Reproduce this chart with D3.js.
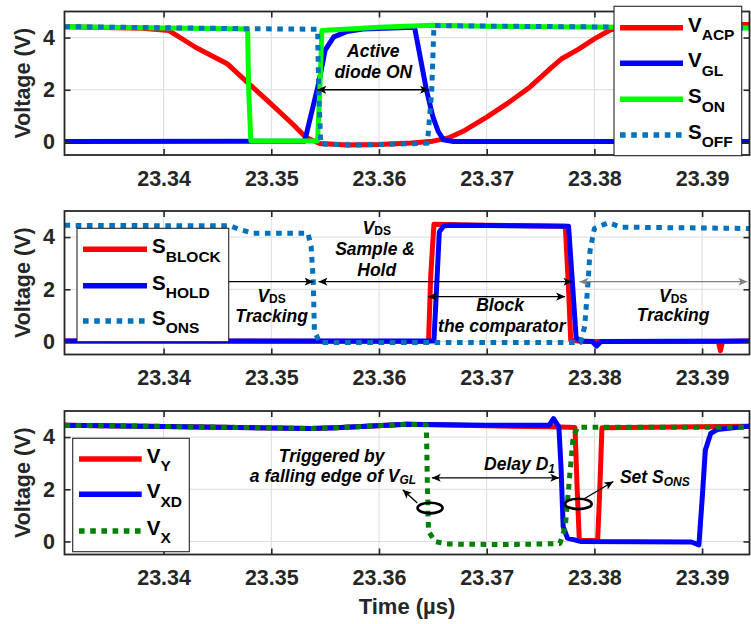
<!DOCTYPE html>
<html><head><meta charset="utf-8">
<script src="https://cdn.jsdelivr.net/npm/d3@7"></script>
<style>body{margin:0;background:#fff} svg{display:block}</style>
</head><body>
<svg id="chart" width="751" height="624"></svg>
<script>
// ---------- data ----------
const xTicks = [23.34, 23.35, 23.36, 23.37, 23.38, 23.39];
const yTicks = [0, 2, 4];
const xDomain = [23.3308, 23.3944];
const yDomain = [-0.5, 5];

// panel 1
const vACP = [[23.3308,4.42],[23.3380,4.36],[23.3405,4.27],[23.3430,3.62],[23.3459,3.0],[23.3480,2.2],[23.3500,1.45],[23.3520,0.68],[23.3532,0.18],[23.3545,-0.06],[23.3570,-0.12],[23.3600,-0.1],[23.3630,-0.04],[23.3650,0.03],[23.3665,0.16],[23.3680,0.45],[23.3700,0.95],[23.3720,1.5],[23.3740,2.1],[23.3760,2.85],[23.3770,3.2],[23.3785,3.55],[23.3800,3.95],[23.3815,4.3],[23.3830,4.48],[23.3944,4.5]];
const vGL = [[23.3308,0.02],[23.3531,0.03],[23.3544,2.25],[23.3550,3.52],[23.3558,4.03],[23.3570,4.23],[23.3585,4.33],[23.3633,4.4],[23.3644,2.0],[23.3650,0.97],[23.3655,0.4],[23.3660,0.08],[23.3669,0.02],[23.3944,0.02]];
const sON = [[23.3308,4.42],[23.3478,4.33],[23.3479,2.0],[23.3481,0.04],[23.3543,0.04],[23.3545,2.0],[23.3547,4.27],[23.3600,4.4],[23.3650,4.47],[23.3700,4.43],[23.3944,4.37]];
const sOFF = [[23.3308,4.42],[23.3478,4.34],[23.3543,4.32],[23.3544,2.0],[23.3546,-0.08],[23.3580,-0.12],[23.3645,-0.05],[23.3649,2.0],[23.3651,4.46],[23.3700,4.44],[23.3800,4.41],[23.3944,4.37]];

// panel 2
const sBLOCK = [[23.3308,0.02],[23.3646,0.0],[23.3648,2.5],[23.3651,4.49],[23.3700,4.45],[23.3773,4.42],[23.3776,2.0],[23.3778,0.05],[23.3790,0.0],[23.3915,0.0],[23.3917,-0.35],[23.3919,0.0],[23.3944,0.02]];
const sHOLD = [[23.3308,0.02],[23.3651,0.02],[23.3654,2.5],[23.3656,4.2],[23.3660,4.42],[23.3665,4.45],[23.3700,4.44],[23.3776,4.42],[23.3780,2.0],[23.3783,0.15],[23.3787,0.02],[23.3798,0.0],[23.3802,-0.18],[23.3806,0.0],[23.3944,0.02]];
const sONS = [[23.3308,4.45],[23.3462,4.43],[23.3470,4.3],[23.3483,4.15],[23.3534,4.15],[23.3537,3.65],[23.3539,2.3],[23.3540,0.4],[23.3545,-0.04],[23.3787,-0.04],[23.3791,0.57],[23.3794,2.23],[23.3796,3.5],[23.3800,4.33],[23.3813,4.55],[23.3825,4.38],[23.3944,4.33]];

// panel 3
const vY = [[23.3308,4.45],[23.3400,4.41],[23.3537,4.33],[23.3560,4.36],[23.3626,4.49],[23.3700,4.43],[23.3760,4.4],[23.3782,4.37],[23.3784,2.0],[23.3786,0.04],[23.3803,0.04],[23.3805,2.0],[23.3807,4.36],[23.3944,4.42]];
const vXD = [[23.3308,4.45],[23.3400,4.41],[23.3537,4.33],[23.3560,4.36],[23.3626,4.49],[23.3700,4.45],[23.3758,4.45],[23.3762,4.71],[23.3767,4.39],[23.3769,2.86],[23.3771,0.57],[23.3775,0.13],[23.3787,0.0],[23.3890,-0.02],[23.3897,-0.13],[23.3900,1.6],[23.3903,3.5],[23.3908,4.14],[23.3914,4.29],[23.3944,4.42]];
const vX = [[23.3308,4.45],[23.3400,4.41],[23.3537,4.33],[23.3560,4.36],[23.3626,4.49],[23.3644,4.47],[23.3645,2.0],[23.3646,0.39],[23.3652,0.0],[23.3663,-0.1],[23.3720,-0.12],[23.3768,-0.08],[23.3773,0.57],[23.3777,2.48],[23.3780,3.88],[23.3784,4.37],[23.3800,4.38],[23.3944,4.38]];

const seriesNames = [["V","ACP"],["V","GL"],["S","ON"],["S","OFF"],["S","BLOCK"],["S","HOLD"],["S","ONS"],["V","Y"],["V","XD"],["V","X"]];

// ---------- layout ----------
const svg = d3.select("#chart");
const L = 64.5, R = 749.5, H = 143.5;
const tops = [11.5, 211, 411];
const FONT = "'Liberation Sans', Arial, Helvetica, sans-serif";
const AX = "#262626";
const RED = "#ff0000", BLUE = "#0000ff", GREEN = "#00ff00", MBLUE = "#0072bd", DGREEN = "#008000";

const x = d3.scaleLinear().domain(xDomain).range([L, R]);

const defs = svg.append("defs");
function marker(id, color){
  defs.append("marker").attr("id", id).attr("viewBox","0 0 10 10")
    .attr("refX",10).attr("refY",5).attr("markerWidth",9).attr("markerHeight",9)
    .attr("markerUnits","userSpaceOnUse").attr("orient","auto-start-reverse")
    .append("path").attr("d","M0,0.5 L10,5 L0,9.5 L2.5,5 Z").attr("fill",color);
}
marker("ah","#000"); marker("ahg","#808080");

const panels = [
  { series:[{d:vACP,c:RED,n:0},{d:vGL,c:BLUE,n:1},{d:sON,c:GREEN,n:2},{d:sOFF,c:MBLUE,n:3,dot:true}],
    legend:{x:614,y:6.3,w:127.7,h:149.4,lx0:620,lx1:683,tx:688,rows:[27.7,63.3,99.3,135]} },
  { series:[{d:sBLOCK,c:RED,n:4},{d:sHOLD,c:BLUE,n:5},{d:sONS,c:MBLUE,n:6,dot:true}],
    legend:{x:77,y:228.3,w:151.7,h:113.4,lx0:83,lx1:147,tx:152,rows:[249.3,285.7,321]} },
  { series:[{d:vY,c:RED,n:7},{d:vXD,c:BLUE,n:8},{d:vX,c:DGREEN,n:9,dot:true}],
    legend:{x:72.7,y:438.3,w:116.6,h:113.4,lx0:79,lx1:141.7,tx:146.7,rows:[459,494.3,531]} }
];

function addText(g, px, py, parts, anchor, size){
  const t = g.append("text").attr("x",px).attr("y",py).attr("text-anchor",anchor||"middle")
    .attr("font-family",FONT).attr("font-weight","bold").attr("font-style","italic")
    .attr("font-size",size||17.5).attr("fill","#000");
  let shift = 0;
  parts.forEach(p=>{
    const ts = t.append("tspan").text(p.s);
    if(p.sub){ ts.attr("font-size",p.fs||11.5).attr("dy",p.dy-shift); shift = p.dy; if(p.up) ts.attr("font-style","normal"); }
    else { if(shift){ ts.attr("dy",-shift); shift=0; } }
  });
  return t;
}

panels.forEach((p,i)=>{
  const top = tops[i];
  const y = d3.scaleLinear().domain(yDomain).range([top+H, top]);
  const g = svg.append("g");
  const clipId = "clip"+i;
  defs.append("clipPath").attr("id",clipId).append("rect").attr("x",L).attr("y",top).attr("width",R-L).attr("height",H);

  // grid
  g.append("g").selectAll("line").data(xTicks).join("line")
    .attr("x1",d=>x(d)).attr("x2",d=>x(d)).attr("y1",top).attr("y2",top+H)
    .attr("stroke","#dcdcdc").attr("stroke-width",1);
  g.append("g").selectAll("line").data(yTicks).join("line")
    .attr("x1",L).attr("x2",R).attr("y1",d=>y(d)).attr("y2",d=>y(d))
    .attr("stroke","#dcdcdc").attr("stroke-width",1);

  // data
  const line = d3.line().x(d=>x(d[0])).y(d=>y(d[1]));
  const dg = g.append("g").attr("clip-path",`url(#${clipId})`);
  p.series.forEach(s=>{
    dg.append("path").attr("d",line(s.d)).attr("fill","none").attr("stroke",s.c)
      .attr("stroke-width",5).attr("stroke-linejoin","round")
      .attr("stroke-dasharray", s.dot ? "5.6,5.6" : null);
  });
  p.y = y; p.g = g; p.top = top;
});

// ---------- annotations ----------
function arrow(g, x1, y1, x2, y2, both, color){
  const l = g.append("line").attr("x1",x1).attr("y1",y1).attr("x2",x2).attr("y2",y2)
    .attr("stroke",color||"#000").attr("stroke-width",1.3)
    .attr("marker-end",`url(#${color?"ahg":"ah"})`);
  if(both) l.attr("marker-start",`url(#${color?"ahg":"ah"})`);
}
{ // panel 1
  const g = panels[0].g, y = panels[0].y;
  addText(g, x(23.35947), y(3.25), [{s:"Active"}]);
  addText(g, x(23.35947), y(2.44), [{s:"diode ON"}]);
  arrow(g, x(23.35427), y(2.0), x(23.36464), y(2.0), true);
}
{ // panel 2
  const g = panels[1].g, y = panels[1].y;
  const vds = [{s:"V"},{s:"DS",sub:true,dy:1,fs:12,up:true}];
  addText(g, x(23.35979), y(4.11), vds);
  addText(g, x(23.35963), y(3.31), [{s:"Sample &"}]);
  addText(g, x(23.35979), y(2.51), [{s:"Hold"}]);
  addText(g, x(23.35003), y(1.52), vds);
  addText(g, x(23.35003), y(0.76), [{s:"Tracking"}]);
  addText(g, x(23.37124), y(1.18), [{s:"Block"}]);
  addText(g, x(23.3714), y(0.38), [{s:"the comparator"}]);
  addText(g, x(23.38731), y(1.52), vds);
  addText(g, x(23.38731), y(0.79), [{s:"Tracking"}]);
  arrow(g, x(23.3405), y(2.29), x(23.35393), y(2.29), false);
  arrow(g, x(23.35438), y(2.29), x(23.37796), y(2.29), true);
  arrow(g, x(23.37862), y(2.29), x(23.3942), y(2.29), true, "#808080");
  arrow(g, x(23.36455), y(1.72), x(23.37728), y(1.72), true);
}
{ // panel 3
  const g = panels[2].g, y = panels[2].y;
  addText(g, x(23.35561), y(3.05), [{s:"Triggered by"}]);
  addText(g, x(23.35573), y(2.29), [{s:"a falling edge of V"},{s:"GL",sub:true,dy:2,fs:12}]);
  addText(g, x(23.37305), y(2.75), [{s:"Delay D"},{s:"1",sub:true,dy:3,fs:12}]);
  addText(g, x(23.38237), y(2.24), [{s:"Set S"},{s:"ONS",sub:true,dy:3,fs:12}], "start");
  arrow(g, x(23.3649), y(2.44), x(23.37674), y(2.44), true);
  g.append("ellipse").attr("cx",x(23.36474)).attr("cy",y(1.28)).attr("rx",12.5).attr("ry",5.3)
    .attr("fill","none").attr("stroke","#000").attr("stroke-width",2.6);
  g.append("ellipse").attr("cx",x(23.37851)).attr("cy",y(1.44)).attr("rx",13.3).attr("ry",5.2)
    .attr("fill","none").attr("stroke","#000").attr("stroke-width",2.6);
  arrow(g, x(23.36356), y(1.47), x(23.3622), y(1.98), false);
  arrow(g, x(23.37898), y(1.62), x(23.38176), y(2.30), false);
}

// ---------- axes, frame, legends ----------
panels.forEach((p,i)=>{
  const g = p.g, y = p.y, top = p.top;
  const style = a => {
    a.select(".domain").remove();
    a.selectAll(".tick line").attr("stroke",AX).attr("stroke-width",1.6);
    a.selectAll("text").attr("font-family",FONT).attr("font-weight","bold")
      .attr("font-size",21.5).attr("fill",AX);
  };
  g.append("g").attr("transform",`translate(0,${top+H})`)
    .call(d3.axisBottom(x).tickValues(xTicks).tickFormat(d3.format(".2f")).tickSize(-6).tickSizeOuter(0).tickPadding(15.5)).call(style);
  g.append("g").attr("transform",`translate(0,${top})`)
    .call(d3.axisTop(x).tickValues(xTicks).tickFormat("").tickSize(-6).tickSizeOuter(0)).call(style);
  g.append("g").attr("transform",`translate(${L},0)`)
    .call(d3.axisLeft(y).tickValues(yTicks).tickFormat(d3.format("d")).tickSize(-6).tickSizeOuter(0).tickPadding(9.5)).call(style);
  g.append("g").attr("transform",`translate(${R},0)`)
    .call(d3.axisRight(y).tickValues(yTicks).tickFormat("").tickSize(-6).tickSizeOuter(0)).call(style);
  g.append("rect").attr("x",L).attr("y",top).attr("width",R-L).attr("height",H)
    .attr("fill","none").attr("stroke",AX).attr("stroke-width",1.8);
  g.append("text").attr("transform",`translate(30,${top+H/2}) rotate(-90)`)
    .attr("text-anchor","middle").attr("font-family",FONT).attr("font-weight","bold")
    .attr("font-size",21.5).attr("fill",AX).text("Voltage (V)");

  // legend
  const lg = p.legend;
  const lgG = svg.append("g");
  lgG.append("rect").attr("x",lg.x).attr("y",lg.y).attr("width",lg.w).attr("height",lg.h)
    .attr("fill","#fff").attr("stroke",AX).attr("stroke-width",1.1);
  p.series.forEach((s,k)=>{
    const ry = lg.rows[k];
    lgG.append("line").attr("x1",lg.lx0).attr("x2",lg.lx1).attr("y1",ry).attr("y2",ry)
      .attr("stroke",s.c).attr("stroke-width",5.5).attr("stroke-dasharray",s.dot?"5.6,5.6":null);
    const nm = seriesNames[s.n];
    const t = lgG.append("text").attr("x",lg.tx).attr("y",ry+4).attr("font-family",FONT)
      .attr("font-weight","bold").attr("font-size",20.5).attr("fill","#000");
    t.append("tspan").text(nm[0]);
    t.append("tspan").attr("font-size",15.5).attr("dy",8.3).text(nm[1]);
  });
});

svg.append("text").attr("x",(L+R)/2).attr("y",614).attr("text-anchor","middle")
  .attr("font-family",FONT).attr("font-weight","bold").attr("font-size",22).attr("fill",AX)
  .text("Time (\u00b5s)");
</script>
</body></html>
